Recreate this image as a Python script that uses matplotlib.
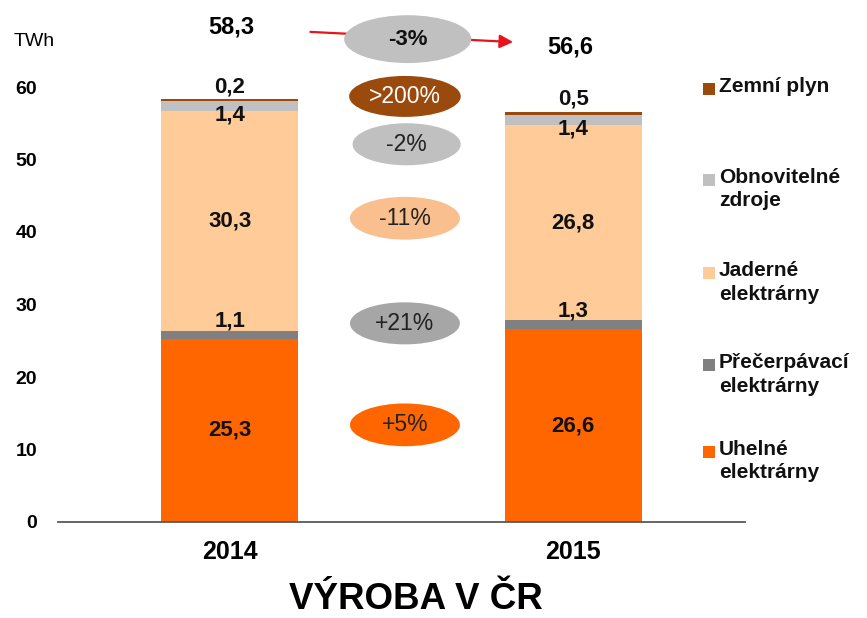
import matplotlib
matplotlib.use("Agg")
import matplotlib.pyplot as plt
from matplotlib.patches import Ellipse, Rectangle
import numpy as np

plt.rcParams['font.family'] = ['Liberation Sans', 'DejaVu Sans']

# data
years = ['2014', '2015']
sources = ['Uhelné\nelektrárny', 'Přečerpávací\nelektrárny', 'Jaderné\nelektrárny',
           'Obnovitelné\nzdroje', 'Zemní plyn']
uhelne = [25.3, 26.6]
precerpavaci = [1.1, 1.3]
jaderne = [30.3, 26.8]
obnovitelne = [1.4, 1.4]
plyn = [0.2, 0.5]
changes = ['+5%', '+21%', '-11%', '-2%', '>200%']
total_change = '-3%'

colors = ['#FF6600', '#808080', '#FFCC99', '#C0C0C0', '#9A4A0C']
ell_colors = ['#FF6600', '#A6A6A6', '#F9BF8F', '#C0C0C0', '#9A4A0C']

W, H = 867, 618
fig = plt.figure(figsize=(W / 100, H / 100), dpi=100)

def fx(x):
    return x / W

def fy(y):
    return 1 - y / H

# axes: baseline at y=522px, x from 58 to 745px
ax = fig.add_axes([fx(58), fy(522), (745 - 58) / W, 522 / H])
ax.set_xlim(-0.5, 1.5)
ax.set_ylim(0, 72)

series = [uhelne, precerpavaci, jaderne, obnovitelne, plyn]
x = np.arange(len(years))
bottom = np.zeros(len(years))
for vals, col in zip(series, colors):
    ax.bar(x, vals, 0.4, bottom=bottom, color=col, edgecolor='none', zorder=2)
    bottom = bottom + np.array(vals)

def fmt(v):
    return f'{v:.1f}'.replace('.', ',')

# segment labels
lab = dict(fontsize=16, fontweight='bold', color='#111111', ha='center', va='center', zorder=5)
bottom = np.zeros(len(years))
for k, vals in enumerate(series):
    for i, v in enumerate(vals):
        mid = bottom[i] + v / 2
        if k in (0, 2):
            ax.text(x[i], mid, fmt(v), **lab)
        elif k == 1:
            ax.annotate(fmt(v), (x[i], mid), xytext=(0, 10), textcoords='offset points', **lab)
        elif k == 3:
            ax.annotate(fmt(v), (x[i], mid), xytext=(0, -6.5), textcoords='offset points', **lab)
        else:
            ax.annotate(fmt(v), (x[i], bottom[i] + v), xytext=(0, 9), textcoords='offset points', **lab)
    bottom = bottom + np.array(vals)

totals = bottom
ax.text(0.005, 68.3, fmt(totals[0]), fontsize=17, fontweight='bold', ha='center', va='center')
ax.text(0.99, 65.5, fmt(totals[1]), fontsize=17, fontweight='bold', ha='center', va='center')

# arrow behind the total change ellipse
ax.annotate('', xy=(0.825, 66.2), xytext=(0.235, 67.6),
            arrowprops=dict(arrowstyle='-|>', color='#E8141B', lw=1.6,
                            mutation_scale=20, shrinkA=0, shrinkB=0), zorder=3)

# change ellipses (layout positions in data units)
ell_pos = [(0.51, 13.4, 0.32, 5.9), (0.51, 27.4, 0.32, 5.8), (0.51, 41.9, 0.32, 5.9),
           (0.515, 52.1, 0.315, 5.8), (0.51, 58.7, 0.325, 5.65)]
for (cx, cy, ew, eh), txt, col in zip(ell_pos, changes, ell_colors):
    ax.add_patch(Ellipse((cx, cy), ew, eh, facecolor=col, edgecolor='none', zorder=4, clip_on=False))
    tc = 'white' if txt.startswith('>') else '#222222'
    ax.text(cx, cy, txt, fontsize=16.5, color=tc, ha='center', va='center', zorder=5)

ax.add_patch(Ellipse((0.518, 66.6), 0.37, 6.6, facecolor='#C0C0C0', edgecolor='none', zorder=4, clip_on=False))
ax.text(0.518, 66.6, total_change, fontsize=16, fontweight='bold', color='#111111',
        ha='center', va='center', zorder=5)

# axes styling
ax.set_yticks(np.arange(0, 61, 10))
ax.set_yticklabels([str(v) for v in range(0, 61, 10)], fontsize=14, fontweight='bold')
ax.set_xticks(x)
ax.set_xticklabels(years, fontsize=18, fontweight='bold')
ax.tick_params(axis='y', length=0, pad=15)
ax.tick_params(axis='x', length=0, pad=13)
for s in ['left', 'right', 'top']:
    ax.spines[s].set_visible(False)
ax.spines['bottom'].set_color('#595959')
ax.spines['bottom'].set_linewidth(1.3)
ax.patch.set_alpha(0)

fig.text(fx(14), fy(42), 'TWh', fontsize=14, ha='left', va='center')

# legend drawn by hand
leg_y = [452, 365, 273, 180, 89]
for name, col, yy in zip(sources, colors, leg_y):
    fig.patches.append(Rectangle((fx(703), fy(yy + 6)), 12 / W, 12 / H,
                                 transform=fig.transFigure, facecolor=col, edgecolor='none'))
    fig.text(fx(719), fy(yy - 12), name, fontsize=15, fontweight='bold', color='#111111',
             ha='left', va='top', linespacing=1.3)

fig.text(fx(415.5), fy(609), 'VÝROBA V ČR', fontsize=26.5, fontweight='bold',
         ha='center', va='baseline')

fig.savefig('out.png', dpi=100)
